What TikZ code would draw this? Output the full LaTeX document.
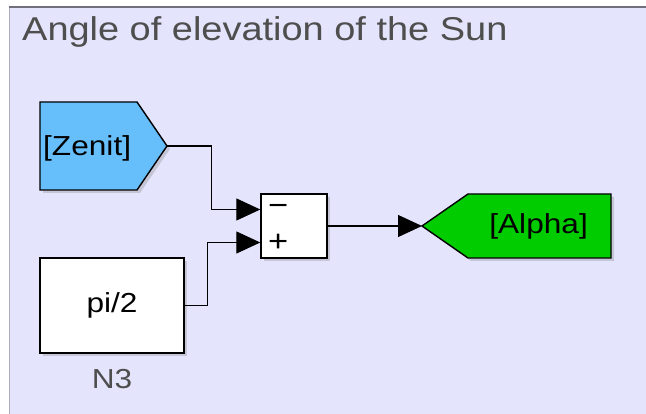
\documentclass[tikz,border=0pt]{standalone}
\usepackage{fontspec}
\setmainfont{Liberation Sans}[FakeStretch=1.15]
\usetikzlibrary{arrows.meta,positioning,shadows}

\definecolor{areabg}{RGB}{228,228,252}
\definecolor{areatop}{RGB}{112,112,124}
\definecolor{areaside}{RGB}{170,170,184}
\definecolor{titlegray}{RGB}{78,78,78}
\definecolor{fromblue}{RGB}{102,190,250}
\definecolor{gotogreen}{RGB}{0,204,0}

\begin{document}
\begin{tikzpicture}[x=1pt,y=1pt,font=\fontsize{27.5}{30}\selectfont,
  blk/.style={draw=black,line width=1.4pt,
    drop shadow={opacity=0.3,shadow xshift=3pt,shadow yshift=-3pt}},
  lbl/.style={inner sep=0pt},
  sgn/.style={inner sep=0pt,font=\fontsize{30}{30}\selectfont},
  sig/.style={line width=1.2pt,-{Triangle[length=24pt,width=22pt]}}]
\useasboundingbox (0,0) rectangle (646,414);

% subsystem area
\fill[areabg] (9,0) rectangle (646,408);
\draw[areaside,line width=1pt] (9.5,0) -- (9.5,408);
\draw[areatop,line width=2.5pt] (8.5,407) -- (646,407);
\node[lbl,anchor=base west,text=titlegray,font=\fontsize{33}{36}\selectfont]
  (title) at (22,373) {Angle of elevation of the Sun};

% From tag
\draw[blk,fill=fromblue] (40,312) -- (137,312) -- (167,268) -- (137,224)
  -- (40,224) -- cycle;
\coordinate (zenit) at (167,268);
\node[lbl,anchor=west] (zenittxt) at (43,266) {[Zenit]};

% constant and its name
\node[blk,fill=white,minimum width=144pt,minimum height=95pt] (pi)
  at (112,108.5) {pi/2};
\node[lbl,below=15pt of pi,text=titlegray] (n3) {N3};

% sum block, signs top to bottom
\node[blk,fill=white,minimum width=66pt,minimum height=64pt] (sum)
  at (294,188) {};
\coordinate (in1) at ([yshift=16.5pt]sum.west);
\coordinate (in2) at ([yshift=-16.5pt]sum.west);
\node[sgn] (minus) at ([xshift=18pt]in1) {−};
\node[sgn] (plus) at ([xshift=18pt]in2) {+};

% Goto tag
\draw[blk,fill=gotogreen] (422,188) -- (468,220) -- (611,220) -- (611,156)
  -- (468,156) -- cycle;
\coordinate (alpha) at (422,188);
\node[lbl,anchor=east] (alphatxt) at (588,188) {[Alpha]};

% signal lines
\draw[sig] (zenit) -| ([xshift=-49pt]in1) -- (in1);
\draw[sig] (pi.east) -| ([xshift=-53pt]in2) -- (in2);
\draw[sig] (sum.east) -- (alpha);
\end{tikzpicture}
\end{document}
